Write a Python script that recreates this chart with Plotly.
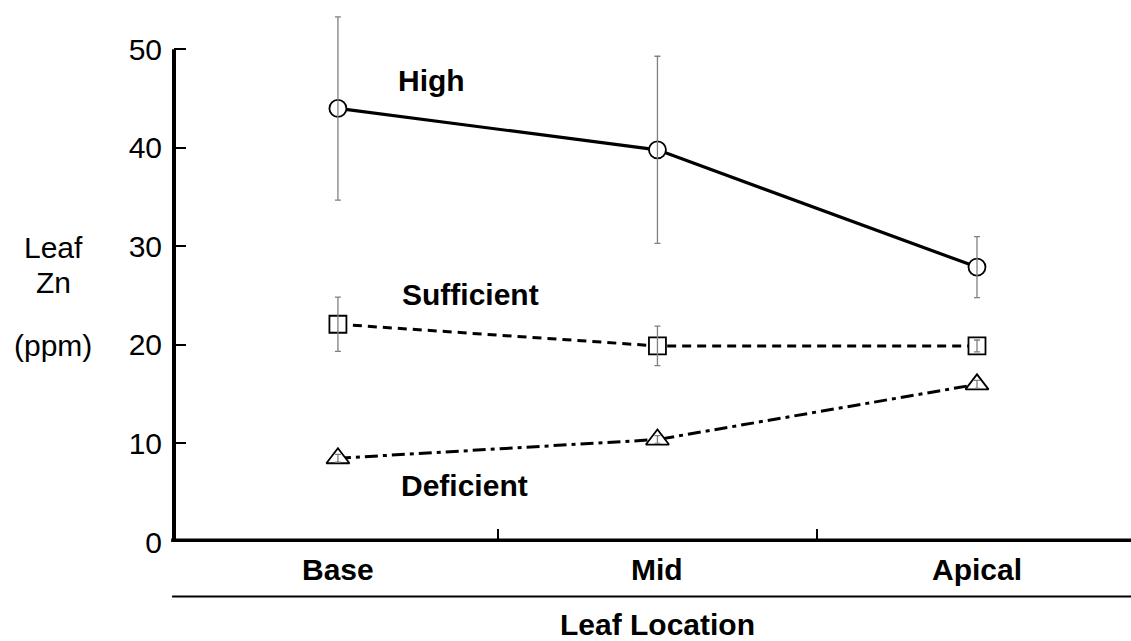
import plotly.graph_objects as go

# ---- data ----
categories = ["Base", "Mid", "Apical"]
high = [44.0, 39.8, 27.9]
high_err = [9.3, 9.5, 3.1]
sufficient = [22.1, 19.9, 19.9]
sufficient_err = [2.75, 2.0, 0.6]
deficient = [8.5, 10.4, 16.0]
deficient_err = [0.4, 0.4, 0.4]
series_names = ["High", "Sufficient", "Deficient"]
y_ticks = [0, 10, 20, 30, 40, 50]

xpos = list(range(len(categories)))
FONT = "Liberation Sans, Arial, sans-serif"

fig = go.Figure()

styles = [
    (high, high_err, "solid", "circle", 17, 3.2),
    (sufficient, sufficient_err, "9px,6px", "square", 17, 3),
    (deficient, deficient_err, "13px,5px,4px,5px", "triangle-up", 20, 3),
]

for vals, errs, dash, sym, sz, lw in styles:
    fig.add_trace(go.Scatter(
        x=xpos, y=vals, mode="lines+markers",
        line=dict(color="black", width=lw, dash=dash),
        marker=dict(symbol=sym, size=sz, color="white",
                    line=dict(color="black", width=1.8)),
        showlegend=False, cliponaxis=False,
    ))

for vals, errs, dash, sym, sz, lw in styles:
    fig.add_trace(go.Scatter(
        x=xpos, y=vals, mode="markers",
        marker=dict(size=1, color="rgba(0,0,0,0)"),
        error_y=dict(type="data", array=errs, visible=True,
                     color="#808080", thickness=1.3, width=3),
        showlegend=False, cliponaxis=False,
    ))

# series labels
label_pos = [(0.294, 46.8), (0.414, 25.1), (0.397, 5.7)]
for name, (lx, ly) in zip(series_names, label_pos):
    fig.add_annotation(x=lx, y=ly, xref="x", yref="y", text="<b>%s</b>" % name,
                       showarrow=False, font=dict(family=FONT, size=30, color="black"),
                       xanchor="center", yanchor="middle")

# category labels
for i, c in enumerate(categories):
    fig.add_annotation(x=xpos[i], y=-0.051, xref="x", yref="paper", text="<b>%s</b>" % c,
                       showarrow=False, font=dict(family=FONT, size=30, color="black"),
                       xanchor="center", yanchor="middle")

fig.add_annotation(x=1, y=-0.153, xref="x", yref="paper", text="<b>Leaf Location</b>",
                   showarrow=False, font=dict(family=FONT, size=30, color="black"),
                   xanchor="center", yanchor="middle")

for txt, py in [("Leaf", 0.548), ("Zn", 0.483), ("(ppm)", 0.366)]:
    fig.add_annotation(x=-0.1264, y=py, xref="paper", yref="paper", text=txt,
                       showarrow=False, font=dict(family=FONT, size=30, color="black"),
                       xanchor="center", yanchor="middle")

# axis lines
fig.add_shape(type="line", xref="paper", yref="y", x0=0, x1=0, y0=0, y1=50,
              line=dict(color="black", width=4))
fig.add_shape(type="line", xref="paper", yref="y", x0=-0.003, x1=1, y0=0, y1=0,
              line=dict(color="black", width=7))
fig.add_shape(type="line", xref="paper", yref="paper", x0=-0.002, x1=1, y0=-0.1015, y1=-0.1015,
              line=dict(color="black", width=2))

fig.update_layout(
    width=1131, height=641,
    margin=dict(l=174, r=0, t=5, b=99),
    plot_bgcolor="white", paper_bgcolor="white",
    font=dict(family=FONT, size=30, color="black"),
    showlegend=False,
    xaxis=dict(range=[-0.513, 2.482], tickvals=[0.5, 1.5], ticktext=["", ""],
               ticks="inside", ticklen=13, tickwidth=1.5, tickcolor="black",
               showgrid=False, zeroline=False, showline=False, fixedrange=True),
    yaxis=dict(range=[0, 54.5], tickvals=y_ticks, ticktext=[str(v) for v in y_ticks],
               ticks="inside", ticklen=12, tickwidth=2, tickcolor="black",
               showgrid=False, zeroline=False, showline=False,
               tickfont=dict(family=FONT, size=30, color="black"),
               ticklabelstandoff=11),
)

fig.write_html("out.html", config={"displayModeBar": False},
               post_script="document.body.style.margin='0';document.body.style.overflow='hidden';")
